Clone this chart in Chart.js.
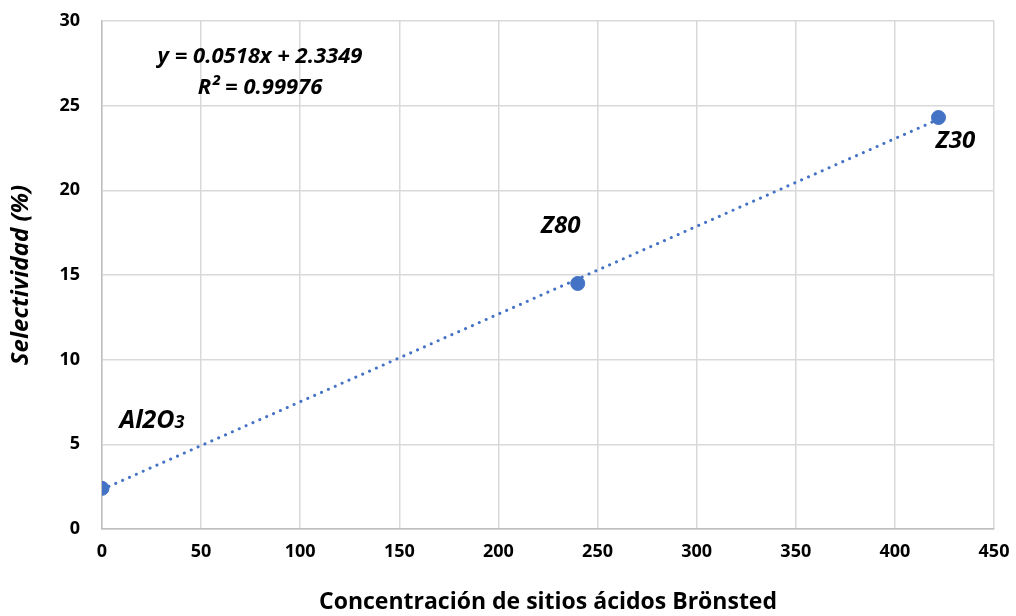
<!DOCTYPE html>
<html>
<head>
<meta charset="utf-8">
<script src="https://cdn.jsdelivr.net/npm/chart.js@4/dist/chart.umd.min.js"></script>
<style>
  html, body { margin: 0; padding: 0; background: #fff; }
  #wrap { width: 1016px; height: 616px; }
</style>
</head>
<body>
<div id="wrap"><canvas id="c" width="1016" height="616"></canvas></div>
<script>
// Catalyst samples: Brønsted acid site concentration vs. selectivity
const samples = ['Al2O3', 'Z80', 'Z30'];
const acidSites = [0, 240, 422];
const selectivity = [2.4, 14.5, 24.3];

// Linear fit reported for the series
const fitSlope = 0.0518;
const fitIntercept = 2.3349;
const fitR2 = '0.99976';

const xTicks = [0, 50, 100, 150, 200, 250, 300, 350, 400, 450];
const yTicks = [0, 5, 10, 15, 20, 25, 30];

const BLUE = '#4472C4';
const FONT = '"Open Sans", Lato, "Liberation Sans", sans-serif';

const points = acidSites.map((x, i) => ({ x, y: selectivity[i] }));
const fitXs = [acidSites[0], acidSites[acidSites.length - 1]];
const fitLine = fitXs.map(x => ({ x, y: fitSlope * x + fitIntercept }));

// Text annotations: sample names next to their points and the fit equation
const annotate = {
  id: 'annotate',
  afterDatasetsDraw(chart) {
    const { ctx, chartArea, scales } = chart;
    const xs = scales.x, ys = scales.y;
    ctx.save();
    ctx.fillStyle = '#000';
    ctx.textBaseline = 'middle';

    // equation and R²
    ctx.font = `italic bold 22px ${FONT}`;
    ctx.textAlign = 'center';
    const ex = chartArea.left + 158, ey = chartArea.top + 36;
    ctx.fillText(`y = ${fitSlope}x + ${fitIntercept}`, ex, ey);
    ctx.fillText(`R² = ${fitR2}`, ex, ey + 31);

    const offsets = [[50, -67], [-17, -57], [17, 24]];
    samples.forEach((name, i) => {
      const px = xs.getPixelForValue(acidSites[i]) + offsets[i][0];
      const py = ys.getPixelForValue(selectivity[i]) + offsets[i][1];
      if (name === 'Al2O3') {
        // trailing digit drawn smaller
        const main = 'Al2O', sub = '3';
        ctx.font = `italic bold 25px ${FONT}`;
        const w1 = ctx.measureText(main).width;
        ctx.font = `italic bold 18px ${FONT}`;
        const w2 = ctx.measureText(sub).width;
        const x0 = px - (w1 + w2) / 2;
        ctx.textAlign = 'left';
        ctx.font = `italic bold 25px ${FONT}`;
        ctx.fillText(main, x0, py);
        ctx.font = `italic bold 18px ${FONT}`;
        ctx.fillText(sub, x0 + w1, py + 2);
      } else {
        ctx.font = `italic bold 24px ${FONT}`;
        ctx.textAlign = 'center';
        ctx.fillText(name, px, py);
      }
    });
    ctx.restore();
  }
};

new Chart(document.getElementById('c'), {
  type: 'scatter',
  data: {
    datasets: [
      {
        label: 'Selectividad',
        data: points,
        backgroundColor: BLUE,
        borderColor: BLUE,
        pointRadius: 7,
        pointHoverRadius: 7,
        order: 0
      },
      {
        label: 'Lineal',
        type: 'line',
        data: fitLine,
        showLine: true,
        borderColor: BLUE,
        borderWidth: 3,
        borderDash: [0.1, 7.4],
        borderCapStyle: 'round',
        pointRadius: 0,
        fill: false,
        order: 1
      }
    ]
  },
  options: {
    responsive: false,
    animation: false,
    events: [],
    layout: { padding: { top: 21, right: 22, bottom: 0, left: 0 } },
    plugins: {
      legend: { display: false },
      tooltip: { enabled: false }
    },
    scales: {
      x: {
        type: 'linear',
        min: 0,
        max: 450,
        afterBuildTicks: s => { s.ticks = xTicks.map(v => ({ value: v })); },
        afterFit: s => { s.height = 87; s.paddingLeft = 0; s.paddingRight = 0; },
        grid: { color: '#d9d9d9', lineWidth: 1.5, drawTicks: false },
        border: { color: '#bfbfbf', width: 1.5 },
        ticks: {
          padding: 12,
          color: '#000',
          font: { family: FONT, size: 18, weight: 'bold' }
        },
        title: {
          display: true,
          text: 'Concentración de sitios ácidos Brönsted',
          color: '#000',
          font: { family: FONT, size: 23, weight: 'bold' },
          padding: { top: 0, bottom: 0 }
        }
      },
      y: {
        type: 'linear',
        min: 0,
        max: 30,
        afterBuildTicks: s => { s.ticks = yTicks.map(v => ({ value: v })); },
        afterFit: s => { s.width = 102; s.paddingTop = 0; s.paddingBottom = 0; },
        grid: { color: '#d9d9d9', lineWidth: 1.5, drawTicks: false },
        border: { color: '#bfbfbf', width: 1.5 },
        ticks: {
          padding: 22,
          color: '#000',
          font: { family: FONT, size: 18, weight: 'bold' }
        },
        title: {
          display: true,
          text: 'Selectividad (%)',
          color: '#000',
          font: { family: FONT, size: 24, weight: 'bold', style: 'italic' },
          padding: { top: 7, bottom: 0 }
        }
      }
    }
  },
  plugins: [annotate]
});
</script>
</body>
</html>
